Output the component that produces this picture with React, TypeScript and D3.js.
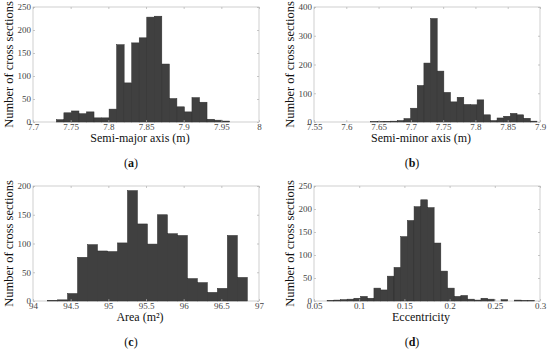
import React, { useEffect, useRef } from 'react';
import * as d3 from 'd3';

// histogram counts, one per bin
const semiMajorCounts = [5, 20, 24, 18, 22, 9, 9, 28, 168, 85, 172, 183, 228, 230, 126, 51, 33, 22, 53, 43, 6, 4, 2];
const semiMajorBins = { start: 7.731, width: 0.01 };
const semiMajorTicks = [7.7, 7.75, 7.8, 7.85, 7.9, 7.95, 8];
const semiMajorYTicks = [0, 50, 100, 150, 200, 250];

const semiMinorCounts = [1, 1, 2, 3, 5, 12, 48, 127, 205, 360, 177, 103, 70, 86, 61, 60, 77, 25, 5, 14, 20, 30, 25, 13, 3];
const semiMinorBins = { start: 7.6378, width: 0.0103 };
const semiMinorTicks = [7.55, 7.6, 7.65, 7.7, 7.75, 7.8, 7.85, 7.9];
const semiMinorYTicks = [0, 100, 200, 300, 400];

const areaCounts = [1, 2, 13, 76, 98, 87, 86, 101, 192, 134, 99, 150, 117, 114, 39, 32, 15, 22, 114, 41];
const areaBins = { start: 94.193, width: 0.1326 };
const areaTicks = [94, 94.5, 95, 95.5, 96, 96.5, 97];
const areaYTicks = [0, 50, 100, 150, 200];

const eccCounts = [1, 2, 3, 4, 6, 10, 6, 28, 24, 54, 73, 140, 175, 205, 220, 203, 126, 65, 28, 10, 12, 4, 2, 6, 4, 0, 3, 0, 2, 1, 1];
const eccBins = { start: 0.0645, width: 0.0074 };
const eccTicks = [0.05, 0.1, 0.15, 0.2, 0.25, 0.3];
const eccYTicks = [0, 50, 100, 150, 200, 250];

const panels = [
  { counts: semiMajorCounts, bins: semiMajorBins, xTicks: semiMajorTicks, yTicks: semiMajorYTicks, xLabel: 'Semi-major axis (m)', tag: 'a', left: 33, right: 259, top: 7, bottom: 122 },
  { counts: semiMinorCounts, bins: semiMinorBins, xTicks: semiMinorTicks, yTicks: semiMinorYTicks, xLabel: 'Semi-minor axis (m)', tag: 'b', left: 314, right: 540, top: 7, bottom: 122 },
  { counts: areaCounts, bins: areaBins, xTicks: areaTicks, yTicks: areaYTicks, xLabel: 'Area (m²)', tag: 'c', left: 33, right: 259, top: 186, bottom: 301 },
  { counts: eccCounts, bins: eccBins, xTicks: eccTicks, yTicks: eccYTicks, xLabel: 'Eccentricity', tag: 'd', left: 314, right: 540, top: 186, bottom: 301 },
];

const serif = '"Liberation Serif", "DejaVu Serif", serif';

export default function App() {
  const ref = useRef<SVGSVGElement>(null);

  useEffect(() => {
    const svg = d3.select(ref.current);
    svg.selectAll('*').remove();
    panels.forEach((p) => drawPanel(svg, p));
  }, []);

  return (
    <svg
      ref={ref}
      width={550}
      height={351}
      style={{ position: 'absolute', left: 0, top: 0, background: 'white' }}
    />
  );
}

function drawPanel(svg: any, p: any) {
  const x = d3.scaleLinear()
      .domain([p.xTicks[0], p.xTicks[p.xTicks.length - 1]])
      .range([p.left, p.right]);
  const y = d3.scaleLinear()
      .domain([0, p.yTicks[p.yTicks.length - 1]])
      .range([p.bottom, p.top]);

  const g = svg.append('g');

  // white box
  g.append('rect')
      .attr('x', p.left)
      .attr('y', p.top)
      .attr('width', p.right - p.left)
      .attr('height', p.bottom - p.top)
      .style('fill', 'white')
      .style('stroke', '#c4c4c4')
      .style('stroke-width', 0.8);

  // bars
  g.selectAll('rect.bar')
      .data(p.counts)
      .enter()
      .append('rect')
      .attr('class', 'bar')
      .attr('x', (d: number, i: number) => x(p.bins.start + i * p.bins.width))
      .attr('width', x(p.bins.start + p.bins.width) - x(p.bins.start))
      .attr('y', (d: number) => y(d))
      .attr('height', (d: number) => y(0) - y(d))
      .style('fill', '#404040')
      .style('stroke', '#2c2c2c')
      .style('stroke-width', 0.5);

  const fmt = (d: number) => String(d);

  const styleAxis = (a: any) => {
    a.select('.domain').remove();
    a.selectAll('line').style('stroke', '#b0b0b0').style('stroke-width', 0.7);
    a.selectAll('text')
        .style('font-family', serif)
        .style('font-size', '9px')
        .style('fill', '#444');
  };

  g.append('g')
      .attr('transform', `translate(0,${p.bottom})`)
      .call(d3.axisBottom(x).tickValues(p.xTicks).tickSize(-2).tickPadding(2).tickFormat(fmt))
      .call(styleAxis);
  g.append('g')
      .attr('transform', `translate(0,${p.top})`)
      .call(d3.axisTop(x).tickValues(p.xTicks).tickSize(-2).tickFormat(() => ''))
      .call(styleAxis);
  g.append('g')
      .attr('transform', `translate(${p.left},0)`)
      .call(d3.axisLeft(y).tickValues(p.yTicks).tickSize(-2).tickPadding(2).tickFormat(fmt))
      .call(styleAxis);
  g.append('g')
      .attr('transform', `translate(${p.right},0)`)
      .call(d3.axisRight(y).tickValues(p.yTicks).tickSize(-2).tickFormat(() => ''))
      .call(styleAxis);

  const midX = (p.left + p.right) / 2;
  const midY = (p.top + p.bottom) / 2;

  // axis titles
  g.append('text')
      .attr('x', midX - 6)
      .attr('y', p.bottom + 19.5)
      .text(p.xLabel)
      .style('text-anchor', 'middle')
      .style('font-family', serif)
      .style('font-size', '12px')
      .style('fill', '#111');
  g.append('text')
      .attr('transform', `translate(${p.left - 20.5},${midY}) rotate(-90)`)
      .text('Number of cross sections')
      .style('text-anchor', 'middle')
      .style('font-family', serif)
      .style('font-size', '12.5px')
      .style('fill', '#111');

  // panel tag like (a)
  const tag = g.append('text')
      .attr('x', midX - 15)
      .attr('y', p.bottom + 45)
      .style('text-anchor', 'middle')
      .style('font-family', serif)
      .style('font-size', '12px')
      .style('fill', '#111');
  tag.append('tspan').text('(');
  tag.append('tspan').text(p.tag).style('font-weight', 'bold');
  tag.append('tspan').text(')');
}
